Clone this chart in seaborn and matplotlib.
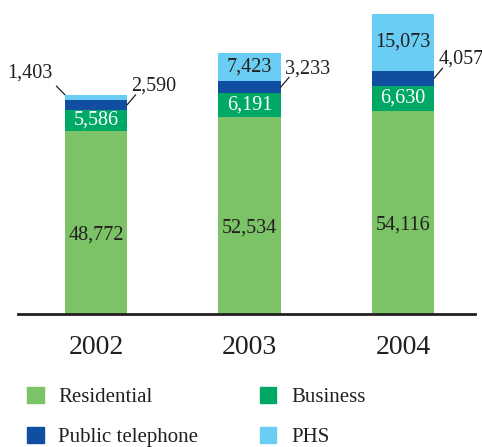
import numpy as np
import pandas as pd
import matplotlib
matplotlib.use('Agg')
import matplotlib.pyplot as plt
import seaborn as sns
from matplotlib.patches import Patch

# Values
years = ['2002', '2003', '2004']
residential = [48772, 52534, 54116]
business = [5586, 6191, 6630]
public_tel = [2590, 3233, 4057]
phs = [1403, 7423, 15073]

series_names = ['Residential', 'Business', 'Public telephone', 'PHS']
colors = ['#7cc368', '#00a866', '#0f4ea0', '#69cdf4']
text_color = '#231f20'

sns.set_style('white')
plt.rcParams['font.family'] = ['Liberation Serif', 'DejaVu Serif']

df = pd.DataFrame({'year': years, 'Residential': residential, 'Business': business,
                   'Public telephone': public_tel, 'PHS': phs})
# cumulative tops for the stacked bars
cum = df[series_names].cumsum(axis=1)

fig = plt.figure(figsize=(4.82, 4.47), dpi=100)
ax = fig.add_axes([18 / 482, 1 - 314 / 447, 457 / 482, 314 / 447])

# draw the tallest stack first, then cover with lower cumulative stacks
for name, col in reversed(list(zip(series_names, colors))):
    sns.barplot(x=df['year'], y=cum[name], color=col, width=0.404,
                saturation=1, ax=ax, linewidth=0)

ax.set_xlim(-0.508, 2.469)
ax.set_ylim(0, 83600)
ax.set_xlabel('')
ax.set_ylabel('')
ax.set_yticks([])
for s in ['top', 'right', 'left']:
    ax.spines[s].set_visible(False)
ax.spines['bottom'].set_linewidth(2)
ax.spines['bottom'].set_color('#231f20')
ax.tick_params(axis='x', length=0, pad=15, labelsize=20, labelcolor=text_color)

fs = 14.5
half = 0.202
line = dict(arrowstyle='-', color=text_color, lw=0.9, patchA=None, shrinkB=0)
for i in range(len(years)):
    r, b, p, h = residential[i], business[i], public_tel[i], phs[i]
    # residential, slightly below middle
    ax.annotate(f'{r:,}', (i, r / 2), xytext=(0, -9), textcoords='offset points',
                ha='center', va='center', fontsize=fs, color=text_color)
    # business, white text
    ax.text(i, r + b / 2, f'{b:,}', ha='center', va='center', fontsize=fs, color='white')
    # public telephone, label to the right with a leader line
    ax.annotate(f'{p:,}', (i + half, r + b + p / 2), xytext=(3, 13.5),
                textcoords='offset points', ha='left', va='center', fontsize=fs,
                color=text_color, arrowprops=dict(line, relpos=(0.1, 0.05), shrinkA=0))
    # PHS
    if h > 3000:
        ax.text(i, r + b + p + h / 2, f'{h:,}', ha='center', va='center',
                fontsize=fs, color=text_color)
    else:
        ax.annotate(f'{h:,}', (i - half, r + b + p + h), xytext=(-9, 16),
                    textcoords='offset points', ha='right', va='center', fontsize=fs,
                    color=text_color, arrowprops=dict(line, relpos=(1, 0), shrinkA=4))

handles = [Patch(color=c, label=n) for n, c in zip(series_names, colors)]
order = [0, 2, 1, 3]
fig.legend([handles[k] for k in order], [series_names[k] for k in order],
           ncol=2, loc='upper left', bbox_to_anchor=(27 / 482, 1 - 387 / 447),
           frameon=False, fontsize=15, handlelength=0.8, handleheight=0.8,
           handletextpad=0.7, labelspacing=0.95, columnspacing=2.95,
           borderpad=0, borderaxespad=0, labelcolor=text_color)

fig.savefig('out.png', dpi=100)
